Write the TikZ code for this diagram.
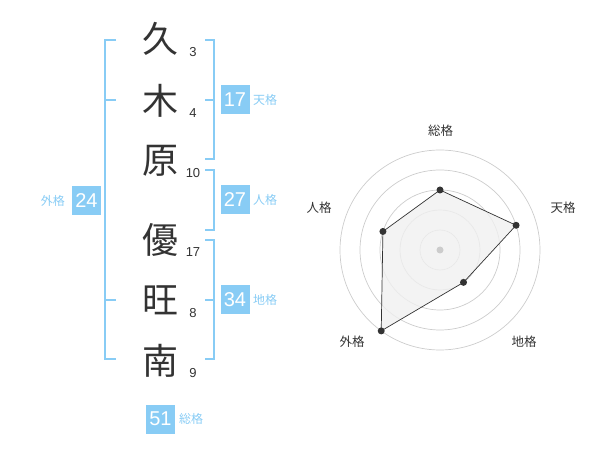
\documentclass[tikz,border=0pt]{standalone}
\usepackage{fontspec}
\setmainfont{Liberation Sans}
\newfontfamily\cjk{Noto Sans CJK JP}
\usetikzlibrary{positioning}
\definecolor{kakublue}{HTML}{88CCF5}
\definecolor{inkgray}{HTML}{333333}
\definecolor{ringgray}{HTML}{CCCCCC}
\definecolor{areagray}{HTML}{F0F0F0}
\tikzstyle{kanji} = [text=inkgray, font=\cjk\fontsize{36}{36}\selectfont, inner sep=0pt]
\tikzstyle{strokes} = [text=inkgray, font=\fontsize{13}{13}\selectfont, inner sep=0pt]
\tikzstyle{kbox} = [fill=kakublue, text=white, minimum size=29pt, inner sep=0pt, font=\fontsize{20}{20}\selectfont]
\tikzstyle{klabel} = [text=kakublue, font=\cjk\fontsize{12}{12}\selectfont, inner sep=0pt]
\tikzstyle{bracket} = [draw=kakublue, line width=2pt]
\tikzstyle{ring} = [draw=ringgray, line width=0.7pt]
\tikzstyle{vertex} = [circle, fill=inkgray, inner sep=0pt, minimum size=7pt]
\tikzstyle{axis} = [text=inkgray, font=\cjk\fontsize{12.5}{12.5}\selectfont, inner sep=0pt]

\begin{document}
\begin{tikzpicture}[x=1pt, y=-1pt]
			\useasboundingbox (0,0) rectangle (600,470);
			% name
			\node [kanji] (k1) at (160,39) {久};
			\node [kanji] (k2) at (160,101) {木};
			\node [kanji] (k3) at (160,161) {原};
			\node [kanji] (k4) at (160,240) {優};
			\node [kanji] (k5) at (160,300) {旺};
			\node [kanji] (k6) at (160,361) {南};
			\node [strokes] (s1) at (193,52) {3};
			\node [strokes] (s2) at (193,113) {4};
			\node [strokes] (s3) at (193,173) {10};
			\node [strokes] (s4) at (193,252) {17};
			\node [strokes] (s5) at (193,313) {8};
			\node [strokes] (s6) at (193,373) {9};
			
			% brackets
			\path [bracket] (116,40) -- (105,40) -- (105,359) -- (116,359);
			\path [bracket] (105,100) -- (116,100);
			\path [bracket] (105,300) -- (116,300);
			\path [bracket] (205,40) -- (214,40) -- (214,159) -- (205,159);
			\path [bracket] (205,100) -- (214,100);
			\path [bracket] (205,170) -- (214,170) -- (214,230) -- (205,230);
			\path [bracket] (205,240) -- (214,240) -- (214,359) -- (205,359);
			\path [bracket] (205,300) -- (214,300);
			
			% totals
			\node [kbox] (ten) at (235,100) {17};
			\node [kbox] (jin) at (235,200) {27};
			\node [kbox] (chi) at (235,300) {34};
			\node [kbox] (gai) at (86.5,201) {24};
			\node [kbox] (sou) at (160.5,419) {51};
			\node [klabel, anchor=west] (tenl) at (253,100) {天格};
			\node [klabel, anchor=west] (jinl) at (253,200) {人格};
			\node [klabel, anchor=west] (chil) at (253,300) {地格};
			\node [klabel, anchor=east] (gail) at (65,201) {外格};
			\node [klabel, anchor=west] (soul) at (179,419) {総格};
			
			% radar
			\begin{scope}[shift={(440,250)}, y=1pt]
				\foreach \r in {20,40,...,100}
					\path [ring] (0,0) circle [radius=\r];
				\coordinate (p1) at (90:60);
				\coordinate (p2) at (18:80);
				\coordinate (p3) at (-54:40);
				\coordinate (p4) at (-126:100);
				\coordinate (p5) at (162:60);
				\filldraw [fill=areagray, fill opacity=0.8, draw=inkgray, line width=0.7pt] (p1) -- (p2) -- (p3) -- (p4) -- (p5) -- cycle;
				\foreach \p in {p1,p2,p3,p4,p5}
					\node [vertex] at (\p) {};
				\node [circle, fill=ringgray, inner sep=0pt, minimum size=7pt] (c) at (0,0) {};
			\end{scope}
			\node [axis] (a1) at (440.5,131) {総格};
			\node [axis] (a2) at (563,208) {天格};
			\node [axis] (a3) at (524,342) {地格};
			\node [axis] (a4) at (352,342) {外格};
			\node [axis] (a5) at (319,208) {人格};
		\end{tikzpicture}
\end{document}
